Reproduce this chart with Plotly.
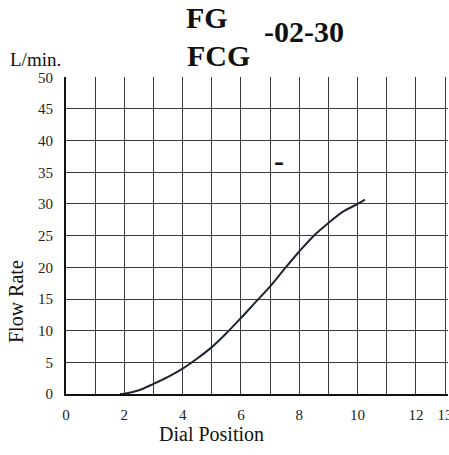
import plotly.graph_objects as go

# Data
dial_position = [1.85, 2.0, 2.5, 3.0, 3.5, 4.0, 4.5, 5.0, 5.5, 6.0, 6.5, 7.0, 7.5, 8.0, 8.5, 9.0, 9.5, 10.0, 10.25]
flow_rate = [0.0, 0.05, 0.6, 1.6, 2.7, 4.0, 5.6, 7.4, 9.6, 12.0, 14.5, 17.0, 19.8, 22.5, 25.0, 27.0, 28.8, 30.0, 30.7]

x_ticks = list(range(0, 14))
x_tick_labels = ["0", "", "2", "", "4", "", "6", "", "8", "", "10", "", "12", "13"]
y_ticks = list(range(0, 51, 5))
y_tick_labels = [str(v) for v in y_ticks]

FONT = "Liberation Serif, DejaVu Serif, serif"
TXT = "#222222"

fig = go.Figure()
fig.add_trace(go.Scatter(
    x=dial_position, y=flow_rate, mode="lines",
    line=dict(color="#1f2530", width=2, shape="spline"),
    showlegend=False, hoverinfo="skip"))

fig.update_layout(
    width=449, height=455,
    margin=dict(l=66, r=1, t=77, b=61, autoexpand=False),
    paper_bgcolor="white", plot_bgcolor="white",
    font=dict(family=FONT, color=TXT),
    xaxis=dict(range=[0, 13.1], tickmode="array", tickvals=x_ticks, ticktext=x_tick_labels,
               showgrid=True, gridcolor="#3a3a3a", gridwidth=1.3,
               showline=True, linecolor="#111111", linewidth=2, automargin=False,
               zeroline=False, ticks="", tickfont=dict(size=15, family=FONT, color=TXT),
               ticklabelstandoff=6, ticklabeloverflow="allow", fixedrange=True),
    yaxis=dict(range=[0, 50.05], tickmode="array", tickvals=y_ticks, ticktext=y_tick_labels,
               showgrid=True, gridcolor="#3a3a3a", gridwidth=1.3,
               showline=True, linecolor="#111111", linewidth=2, automargin=False,
               zeroline=False, ticks="", tickfont=dict(size=15, family=FONT, color=TXT),
               ticklabelstandoff=8, ticklabeloverflow="allow", fixedrange=True),
)

annos = [
    dict(text="<b>FG</b>", x=207, y=17, size=30),
    dict(text="<b>FCG</b>", x=218, y=55, size=30),
    dict(text="<b>-02-30</b>", x=304, y=31, size=30),
    dict(text="L/min.", x=35, y=60, size=19),
    dict(text="Dial Position", x=211, y=434, size=20),
]
for a in annos:
    fig.add_annotation(text=a["text"], xref="paper", yref="paper",
                       x=(a["x"] - 66) / (449 - 67), y=1 - (a["y"] - 77) / (455 - 77 - 61),
                       xanchor="center", yanchor="middle", showarrow=False,
                       font=dict(size=a["size"], family=FONT, color="#111111"))
fig.add_annotation(text="Flow Rate", xref="paper", yref="paper",
                   x=(16 - 66) / (449 - 67), y=1 - (302 - 77) / (455 - 77 - 61),
                   xanchor="center", yanchor="middle", textangle=-90, showarrow=False,
                   font=dict(size=20, family=FONT, color="#111111"))
fig.add_annotation(text="<b>-</b>", x=7.3, y=36.8, xref="x", yref="y",
                   showarrow=False, font=dict(size=30, family=FONT, color="#111111"))

fig.write_html("out.html", config={"displayModeBar": False},
               post_script="document.body.style.margin='0';document.body.style.overflow='hidden';")
